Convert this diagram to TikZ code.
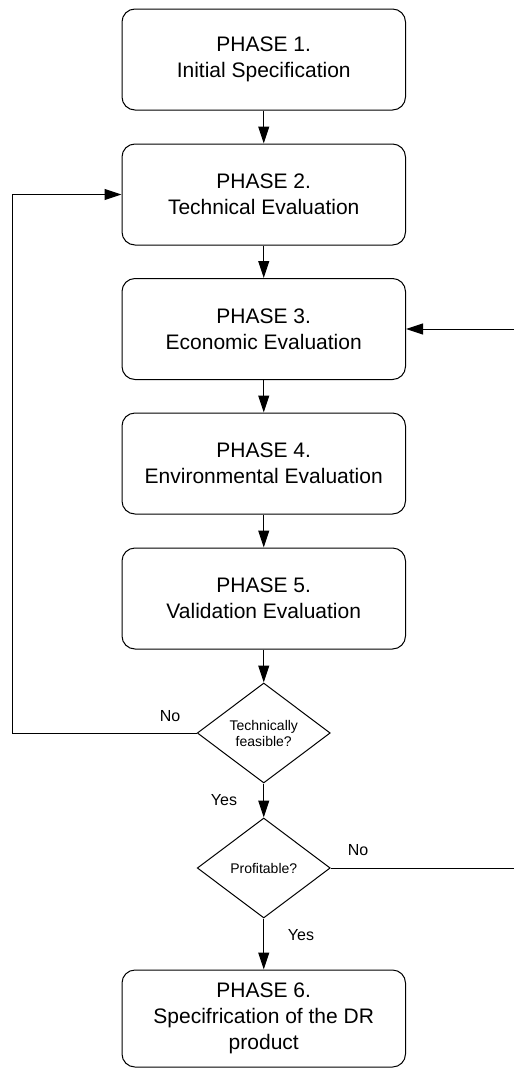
\documentclass[tikz,border=0pt]{standalone}
\usepackage{fontspec}
\setmainfont{Liberation Sans}
\usetikzlibrary{shapes.geometric,arrows.meta}

\tikzset{
  phasebox/.style={draw=black, line width=1pt, rounded corners=13pt,
    minimum width=283.5pt, minimum height=101pt, inner sep=0pt,
    align=center, font=\fontsize{21}{26}\selectfont},
  decision/.style={draw=black, line width=1pt, shape=diamond, aspect=1.33,
    minimum width=133pt, minimum height=100pt, inner sep=0pt,
    align=center, font=\fontsize{14}{16}\selectfont},
  flow/.style={draw=black, line width=1pt, -{Triangle[length=17pt,width=11pt]}},
  plainline/.style={draw=black, line width=1pt},
  answer/.style={inner sep=0pt, font=\fontsize{16}{18}\selectfont}
}

\begin{document}
\begin{tikzpicture}[x=1pt, y=-1pt]
  % page frame
  \fill[white] (0,0) rectangle (514,1068);
  \useasboundingbox (0,0) rectangle (514,1068);

  % phases
  \node[phasebox] (p1) at (263.75,59.5)  {PHASE 1.\\Initial Specification};
  \node[phasebox] (p2) at (263.75,194.5) {PHASE 2.\\Technical Evaluation};
  \node[phasebox] (p3) at (263.75,329)   {PHASE 3.\\Economic Evaluation};
  \node[phasebox] (p4) at (263.75,463.5) {PHASE 4.\\Environmental Evaluation};
  \node[phasebox] (p5) at (263.75,598.5) {PHASE 5.\\Validation Evaluation};

  % decisions
  \node[decision] (d1) at (263.75,733) {Technically\\feasible?};
  \node[decision] (d2) at (263.75,868) {Profitable?};

  % final phase
  \node[phasebox, minimum height=97pt] (p6) at (263.75,1018.5)
    {PHASE 6.\\Specifrication of the DR\\product};

  % rails for the feedback lines
  \coordinate (leftrail) at (12,0);
  \coordinate (rightrail) at (514,0);

  % main flow
  \draw[flow] (p1.south) -- (p2.north);
  \draw[flow] (p2.south) -- (p3.north);
  \draw[flow] (p3.south) -- (p4.north);
  \draw[flow] (p4.south) -- (p5.north);
  \draw[flow] (p5.south) -- (d1.north);
  \draw[flow] (d1.south) -- (d2.north);
  \draw[flow] (d2.south) -- (p6.north);

  % feedback: not technically feasible
  \draw[flow] (d1.west) -- (d1.west -| leftrail) |- (p2.west);

  % feedback: not profitable
  \draw[plainline] (d2.east) -- (d2.east -| rightrail);
  \draw[flow] (p3.east -| rightrail) -- (p3.east);

  % branch labels
  \node[answer] (no1)  at (170,716) {No};
  \node[answer] (yes1) at (224,800) {Yes};
  \node[answer] (no2)  at (358,850) {No};
  \node[answer] (yes2) at (301,935) {Yes};
\end{tikzpicture}
\end{document}
